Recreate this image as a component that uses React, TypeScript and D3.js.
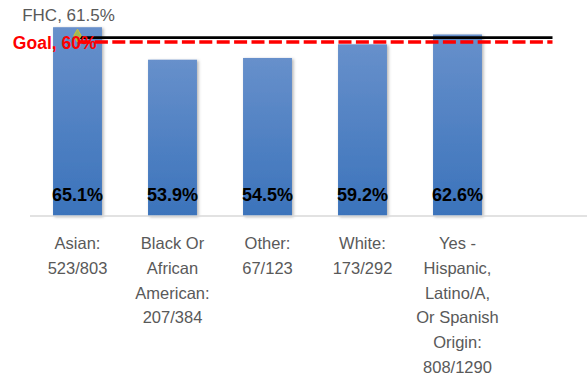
import React from "react";
import * as d3 from "d3";

const categories = ["Asian", "Black", "Other", "White", "Hispanic", ""];
const categoryLines: string[][] = [
  ["Asian:", "523/803"],
  ["Black Or", "African", "American:", "207/384"],
  ["Other:", "67/123"],
  ["White:", "173/292"],
  ["Yes -", "Hispanic,", "Latino/A,", "Or Spanish", "Origin:", "808/1290"],
  [],
];
const values = [65.1, 53.9, 54.5, 59.2, 62.6];
const fhcValue = 61.5;
const goalValue = 60;
const fhcLabel = "FHC, 61.5%";
const goalLabel = "Goal, 60%";

const W = 587;
const H = 379;

export default function App() {
  const x = d3.scaleBand<string>().domain(categories).range([30, 600]).paddingInner(0.485).paddingOuter(0.2425);
  const y = d3.scaleLinear().domain([0, 70]).range([216, 13]);
  const cx = (c: string) => (x(c) as number) + x.bandwidth() / 2;
  const first = categories[0];
  const last = categories[categories.length - 1];
  const lineGen = d3.line<number>().x((_, i) => (i === 0 ? cx(first) : cx(last))).y((d) => y(d));
  const diamond = d3.symbol().type(d3.symbolDiamond).size(48)() as string;
  const font = "'Liberation Sans', Arial, sans-serif";

  return (
    <svg width={W} height={H} style={{ position: "absolute", left: 0, top: 0, background: "#fff" }}>
      <defs>
        <linearGradient id="barGrad" x1="0" y1="0" x2="0" y2="1">
          <stop offset="0%" stopColor="#6790cb" />
          <stop offset="100%" stopColor="#3b73bb" />
        </linearGradient>
        <filter id="shadow" x="-30%" y="-10%" width="160%" height="120%">
          <feDropShadow dx="1.5" dy="1" stdDeviation="1.5" floodColor="#000" floodOpacity="0.3" />
        </filter>
      </defs>
      {values.map((v, i) => (
        <rect
          key={categories[i]}
          x={x(categories[i])}
          y={y(v)}
          width={x.bandwidth()}
          height={y(0) - y(v)}
          fill="url(#barGrad)"
          filter="url(#shadow)"
        />
      ))}
      <line x1={30} x2={600} y1={y(0)} y2={y(0)} stroke="#d9d9d9" strokeWidth={1.5} />
      {values.map((v, i) => (
        <text
          key={"v" + i}
          x={cx(categories[i])}
          y={y(0) - 15}
          textAnchor="middle"
          fontFamily={font}
          fontWeight="bold"
          fontSize={18}
          fill="#000"
        >
          {v.toFixed(1)}%
        </text>
      ))}
      {categoryLines.map((lines, i) => (
        <text key={"c" + i} textAnchor="middle" fontFamily={font} fontSize={16.5} fill="#595959">
          {lines.map((l, j) => (
            <tspan key={j} x={cx(categories[i])} y={249 + j * 24.8}>
              {l}
            </tspan>
          ))}
        </text>
      ))}
      <path d={lineGen([fhcValue, fhcValue]) as string} stroke="#000" strokeWidth={2.8} fill="none" />
      <path
        d={lineGen([goalValue, goalValue]) as string}
        stroke="#ff0000"
        strokeWidth={3.5}
        strokeDasharray="13,4.4"
        fill="none"
      />
      <path d={diamond} transform={`translate(${cx(first)},${y(fhcValue) - 2})`} fill="#9bbb59" stroke="#d4c030" strokeWidth={1} />
      <text x={cx(first) - 9} y={y(fhcValue) - 17} textAnchor="middle" fontFamily={font} fontSize={17} fill="#595959">
        {fhcLabel}
      </text>
      <text x={cx(first) + 19} y={y(goalValue) + 6.5} textAnchor="end" fontFamily={font} fontSize={17.5} fontWeight="bold" fill="#ff0000">
        {goalLabel}
      </text>
    </svg>
  );
}
